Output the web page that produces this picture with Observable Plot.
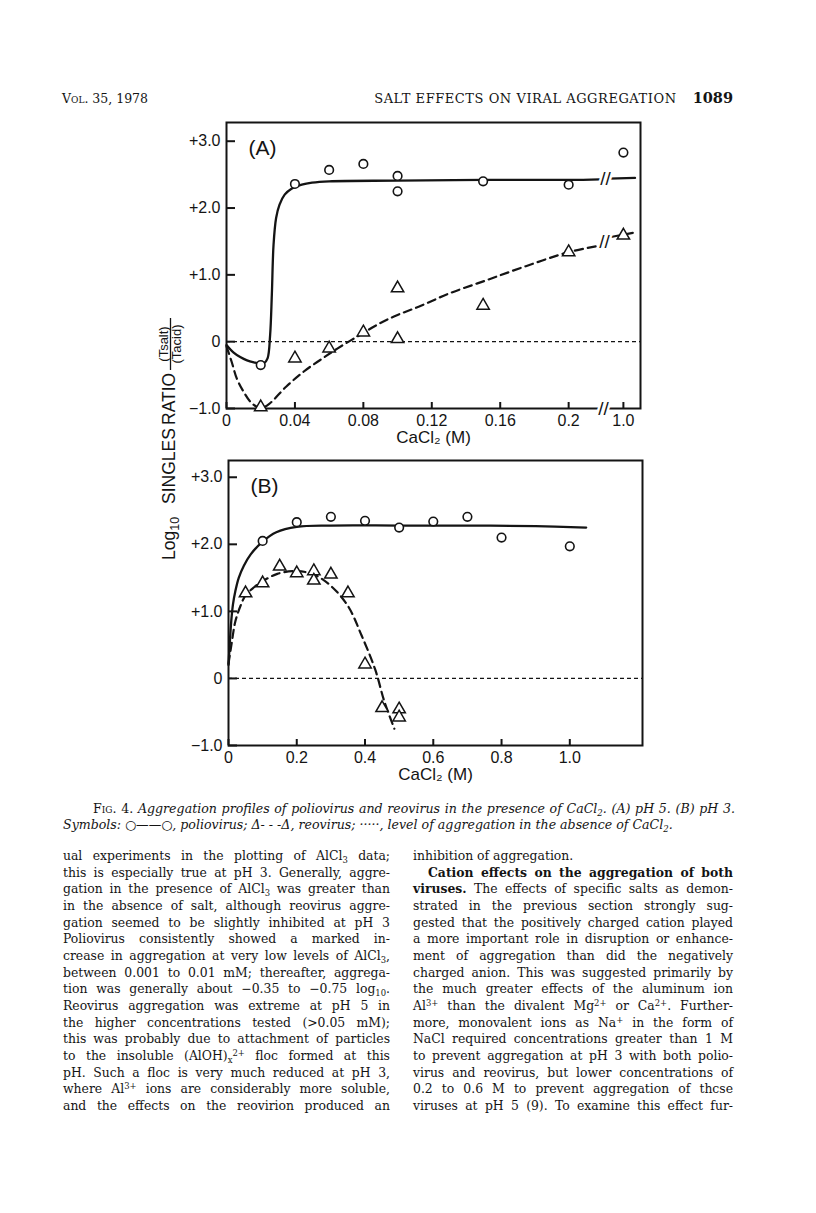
<!DOCTYPE html>
<html>
<head>
<meta charset="utf-8">
<script src="https://cdn.jsdelivr.net/npm/d3@7"></script>
<script src="https://cdn.jsdelivr.net/npm/@observablehq/plot@0.6"></script>
<style>
  body { margin: 0; background: #fff; }
  #page { position: relative; width: 816px; height: 1213px; background: #fff; overflow: hidden; color: #141414; }
  .abs { position: absolute; }
  .serif { font-family: "DejaVu Serif", "Liberation Serif", serif; }
  .hdr { font-size: 12.5px; line-height: 16px; white-space: nowrap; }
  .cap { font-size: 12.6px; line-height: 16px; font-style: italic; white-space: nowrap; }
  .cap div.j { text-align: justify; text-align-last: justify; }
  .col { font-size: 12.4px; line-height: 16.67px; }
  .col div { text-align: justify; text-align-last: justify; white-space: nowrap; }
  .col div.end { text-align-last: left; }
  sub, sup { font-size: 68%; line-height: 0; position: relative; vertical-align: baseline; }
  sub { top: 0.3em; }
  sup { top: -0.5em; }
  .sc { font-variant: small-caps; }
</style>
</head>
<body>
<div id="page">
  <div class="abs serif hdr" style="left:62px; top:91px;"><span class="sc">Vol.</span> 35, 1978</div>
  <div class="abs serif hdr" style="right:83px; top:90px; font-size:13px; letter-spacing:0.55px;">SALT EFFECTS ON VIRAL AGGREGATION<span style="margin-left:16px; font-weight:bold; font-size:14.5px; letter-spacing:0;">1089</span></div>

  <div id="plotA" class="abs" style="left:150px; top:105px;"></div>
  <div id="plotB" class="abs" style="left:150px; top:450px;"></div>

  <svg class="abs" style="left:140px; top:300px;" width="50" height="305">
    <g transform="translate(28,260) rotate(-90)" font-family="Liberation Sans, Arial, sans-serif" fill="#141414">
      <text x="0" y="7" font-size="17.5">Log<tspan font-size="12.5" dy="4">10</tspan></text>
      <text x="56" y="7" font-size="17.5">SINGLES</text>
      <text x="135" y="7" font-size="17.5">RATIO</text>
      <text x="216" y="-0.5" font-size="13" text-anchor="middle">(Tsalt)</text>
      <line x1="190" x2="242" y1="2.5" y2="2.5" stroke="#141414" stroke-width="1.3"></line>
      <text x="216" y="12.5" font-size="13" text-anchor="middle">(Tacid)</text>
    </g>
  </svg>

  <div class="abs serif cap" style="left:63px; top:801px;">
    <div class="j" style="margin-left:30px; width:642px;"><span style="font-style:normal">F<span class="sc">ig</span>. 4.</span> Aggregation profiles of poliovirus and reovirus in the presence of CaCl<sub>2</sub>. (A) pH 5. (B) pH 3.</div>
    <div>Symbols: ○——○, poliovirus; Δ- - -Δ, reovirus; ·····, level of aggregation in the absence of CaCl<sub>2</sub>.</div>
  </div>

  <div class="abs serif col" style="left:63px; top:848px; width:327px;">
    <div>ual experiments in the plotting of AlCl<sub>3</sub> data;</div>
    <div>this is especially true at pH 3. Generally, aggre-</div>
    <div>gation in the presence of AlCl<sub>3</sub> was greater than</div>
    <div>in the absence of salt, although reovirus aggre-</div>
    <div>gation seemed to be slightly inhibited at pH 3</div>
    <div>Poliovirus consistently showed a marked in-</div>
    <div>crease in aggregation at very low levels of AlCl<sub>3</sub>,</div>
    <div>between 0.001 to 0.01 mM; thereafter, aggrega-</div>
    <div>tion was generally about −0.35 to −0.75 log<sub>10</sub>.</div>
    <div>Reovirus aggregation was extreme at pH 5 in</div>
    <div>the higher concentrations tested (&gt;0.05 mM);</div>
    <div>this was probably due to attachment of particles</div>
    <div>to the insoluble (AlOH)<sub>x</sub><sup>2+</sup> floc formed at this</div>
    <div>pH. Such a floc is very much reduced at pH 3,</div>
    <div>where Al<sup>3+</sup> ions are considerably more soluble,</div>
    <div>and the effects on the reovirion produced an</div>
  </div>

  <div class="abs serif col" style="left:413px; top:848px; width:320px;">
    <div class="end">inhibition of aggregation.</div>
    <div style="padding-left:15px;"><b>Cation effects on the aggregation of both</b></div>
    <div><b>viruses.</b> The effects of specific salts as demon-</div>
    <div>strated in the previous section strongly sug-</div>
    <div>gested that the positively charged cation played</div>
    <div>a more important role in disruption or enhance-</div>
    <div>ment of aggregation than did the negatively</div>
    <div>charged anion. This was suggested primarily by</div>
    <div>the much greater effects of the aluminum ion</div>
    <div>Al<sup>3+</sup> than the divalent Mg<sup>2+</sup> or Ca<sup>2+</sup>. Further-</div>
    <div>more, monovalent ions as Na<sup>+</sup> in the form of</div>
    <div>NaCl required concentrations greater than 1 M</div>
    <div>to prevent aggregation at pH 3 with both polio-</div>
    <div>virus and reovirus, but lower concentrations of</div>
    <div>0.2 to 0.6 M to prevent aggregation of thcse</div>
    <div>viruses at pH 5 (9). To examine this effect fur-</div>
  </div>
</div>

<script>
// ---------- tick values ----------
const yTicks = [-1, 0, 1, 2, 3];
const xTicksA = [0, 0.04, 0.08, 0.12, 0.16, 0.2, 1.0];
const xTicksB = [0, 0.2, 0.4, 0.6, 0.8, 1.0];
const axisLabel = "CaCl₂ (M)";

// ---------- Panel A (pH 5) ----------
const polioA_x = [0.02, 0.04, 0.06, 0.08, 0.10, 0.10, 0.15, 0.20, 1.0];
const polioA_y = [-0.35, 2.36, 2.57, 2.66, 2.48, 2.25, 2.40, 2.35, 2.83];
const reoA_x = [0.02, 0.04, 0.06, 0.08, 0.10, 0.10, 0.15, 0.20, 1.0];
const reoA_y = [-0.98, -0.25, -0.10, 0.14, 0.80, 0.04, 0.54, 1.34, 1.59];

// fitted curves (two segments each, split by the axis break)
const polioCurveA_1 = [[0, -0.05], [0.004, -0.16], [0.008, -0.23], [0.012, -0.28], [0.016, -0.31],
  [0.02, -0.33], [0.022, -0.32], [0.024, -0.25], [0.0255, 0.1], [0.0265, 0.7], [0.0275, 1.45],
  [0.029, 1.85], [0.031, 2.05], [0.034, 2.2], [0.038, 2.29], [0.044, 2.35], [0.05, 2.38],
  [0.06, 2.40], [0.1, 2.41], [0.15, 2.42], [0.2, 2.42], [0.66, 2.43]];
const polioCurveA_2 = [[0.79, 2.44], [1.17, 2.45]];
const reoCurveA_1 = [[0, -0.07], [0.003, -0.3], [0.006, -0.55], [0.01, -0.75], [0.014, -0.9],
  [0.018, -0.98], [0.02, -1.0], [0.025, -0.93], [0.035, -0.67], [0.045, -0.45], [0.055, -0.27],
  [0.065, -0.1], [0.078, 0.1], [0.09, 0.28], [0.1, 0.4], [0.113, 0.53], [0.13, 0.72],
  [0.152, 0.92], [0.175, 1.13], [0.2, 1.34], [0.617, 1.43]];
const reoCurveA_2 = [[0.836, 1.57], [1.145, 1.63]];
// axis / curve break marks in panel A
const breakA_x = [0.71, 0.74, 0.725];
const breakA_y = [-1.0, 2.44, 1.50];

// ---------- Panel B (pH 3) ----------
const polioB_x = [0.1, 0.2, 0.3, 0.4, 0.5, 0.6, 0.7, 0.8, 1.0];
const polioB_y = [2.05, 2.33, 2.41, 2.35, 2.25, 2.34, 2.41, 2.10, 1.97];
const reoB_x = [0.05, 0.1, 0.15, 0.2, 0.25, 0.25, 0.3, 0.35, 0.4, 0.45, 0.5, 0.5];
const reoB_y = [1.27, 1.42, 1.67, 1.57, 1.60, 1.46, 1.55, 1.27, 0.21, -0.44, -0.46, -0.58];
const polioCurveB = [[0, 0.2], [0.004, 0.55], [0.008, 0.85], [0.013, 1.1], [0.02, 1.3], [0.03, 1.5],
  [0.045, 1.68], [0.065, 1.85], [0.1, 2.04], [0.14, 2.18], [0.2, 2.26], [0.3, 2.28], [0.5, 2.28],
  [0.7, 2.28], [0.9, 2.27], [1.048, 2.25]];
const reoCurveB = [[0, 0.22], [0.01, 0.55], [0.02, 0.85], [0.035, 1.08], [0.05, 1.24], [0.075, 1.36],
  [0.1, 1.45], [0.143, 1.56], [0.2, 1.6], [0.25, 1.55], [0.3, 1.38], [0.35, 1.08], [0.39, 0.64],
  [0.43, 0.13], [0.457, -0.35], [0.486, -0.75]];

// ---------- helpers ----------
// panel A has a broken x axis: 0–0.2 linear, then 0.2–1.25 compressed
const BREAK = 0.2, SQUEEZE = 0.04;
const txA = v => v <= BREAK ? v : BREAK + (v - BREAK) * SQUEEZE;
const identity = v => v;
const pts = (xs, ys) => xs.map((x, i) => ({x, y: ys[i]}));
const curve = (...segs) => segs.flatMap((s, k) => s.map(([x, y]) => ({x, y, seg: k})));
const fmtY = d => d > 0 ? "+" + d.toFixed(1) : d === 0 ? "0" : "−" + Math.abs(d).toFixed(1);
const fmtX = d => d === 0 ? "0" : d === 1 ? "1.0" : String(d);
const INK = "#141414";

function panelMarks({tx, polio, reo, polioLine, reoLine, breaks, xTicks, tag}) {
  const X = d => tx(d.x);
  const labels = new Map(xTicks.map(v => [tx(v), fmtX(v)]));
  return [
    Plot.frame({stroke: INK, strokeWidth: 2}),
    Plot.ruleY([0], {stroke: INK, strokeDasharray: "4,3", strokeWidth: 1.3}),
    Plot.line(polioLine, {x: X, y: "y", z: "seg", curve: "catmull-rom", stroke: INK, strokeWidth: 2.3}),
    Plot.line(reoLine, {x: X, y: "y", z: "seg", curve: "catmull-rom", stroke: INK, strokeWidth: 2.2, strokeDasharray: "8,5"}),
    breaks ? Plot.text(breaks, {x: X, y: "y", text: () => "//", fontSize: 19, fill: INK, stroke: "white", strokeWidth: 5, paintOrder: "stroke"}) : null,
    Plot.dot(polio, {x: X, y: "y", r: 4.3, fill: "white", stroke: INK, strokeWidth: 1.6}),
    Plot.dot(reo, {x: X, y: "y", symbol: "triangle", r: 4.6, fill: "white", stroke: INK, strokeWidth: 1.5}),
    Plot.axisY({ticks: yTicks, tickFormat: fmtY, tickSize: 9, dx: 9, tickPadding: 6, stroke: INK, strokeWidth: 2, fill: INK, label: null}),
    Plot.axisX({ticks: xTicks.map(tx), tickFormat: d => labels.get(d), tickSize: 6, dy: -6, tickPadding: 6, stroke: INK, strokeWidth: 2, fill: INK, label: null}),
    Plot.text([axisLabel], {frameAnchor: "bottom", dy: 34, fontSize: 17, fill: INK}),
    Plot.text([tag], {frameAnchor: "top-left", dx: 22, dy: 18, textAnchor: "start", fontSize: 21, fill: INK})
  ];
}

const style = {fontFamily: "Liberation Sans, Arial, sans-serif", fontSize: "16px", background: "transparent", color: INK, overflow: "visible"};

const plotA = Plot.plot({
  width: 510, height: 346,
  marginLeft: 76, marginRight: 20, marginTop: 17, marginBottom: 43,
  style,
  x: {domain: [0, txA(1.25)]},
  y: {domain: [-1, 3.28]},
  marks: panelMarks({
    tx: txA,
    polio: pts(polioA_x, polioA_y), reo: pts(reoA_x, reoA_y),
    polioLine: curve(polioCurveA_1, polioCurveA_2), reoLine: curve(reoCurveA_1, reoCurveA_2),
    breaks: pts(breakA_x, breakA_y), xTicks: xTicksA, tag: "(A)"
  })
});
document.getElementById("plotA").appendChild(plotA);

const plotB = Plot.plot({
  width: 510, height: 340,
  marginLeft: 78, marginRight: 18, marginTop: 10, marginBottom: 45,
  style,
  x: {domain: [0, 1.213]},
  y: {domain: [-1, 3.25]},
  marks: panelMarks({
    tx: identity,
    polio: pts(polioB_x, polioB_y), reo: pts(reoB_x, reoB_y),
    polioLine: curve(polioCurveB), reoLine: curve(reoCurveB),
    breaks: null, xTicks: xTicksB, tag: "(B)"
  })
});
document.getElementById("plotB").appendChild(plotB);
</script>
</body>
</html>
